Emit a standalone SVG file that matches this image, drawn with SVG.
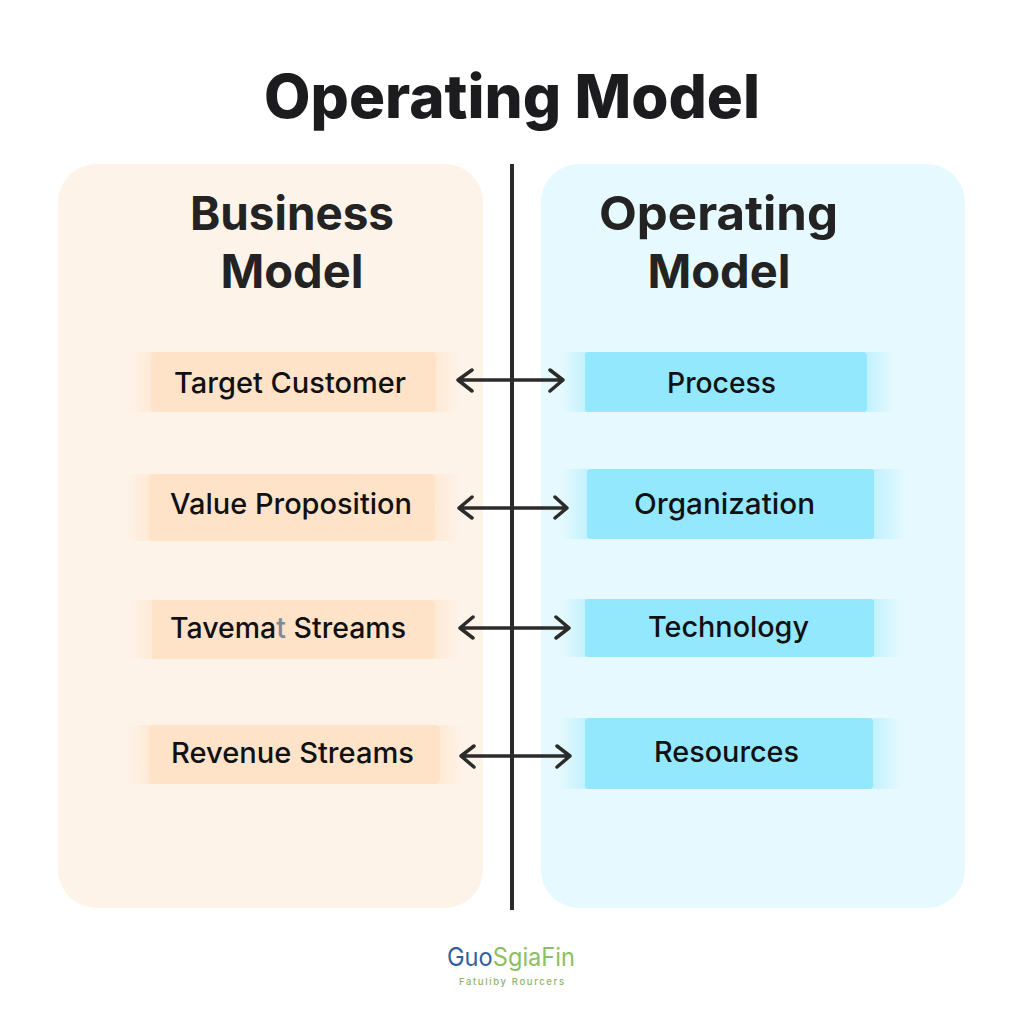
<svg xmlns="http://www.w3.org/2000/svg" width="1024" height="1024" viewBox="0 0 1024 1024">
<style>
text{font-family:Inter,"Liberation Sans",sans-serif;fill:#111114;text-anchor:middle}
.title{font-size:60px;font-weight:800;fill:#1c1c1e}
.head{font-size:47px;font-weight:700;fill:#232323}
.lbl{font-size:29px;font-weight:500}
.biz{fill:#fee3c8}
.ops{fill:#94e8fe}
.wire{fill:none;stroke:#2b2b2b;stroke-width:3.5;stroke-linecap:round;stroke-linejoin:round}
</style>
<defs>
<linearGradient id="fr1" x1="0" x2="1" y1="0" y2="0"><stop offset="0" stop-color="#fee3c8" stop-opacity="0"/><stop offset="1" stop-color="#fee3c8" stop-opacity=".6"/></linearGradient>
<linearGradient id="fr2" x1="1" x2="0" y1="0" y2="0"><stop offset="0" stop-color="#fee3c8" stop-opacity="0"/><stop offset="1" stop-color="#fee3c8" stop-opacity=".6"/></linearGradient>
<linearGradient id="fb1" x1="0" x2="1" y1="0" y2="0"><stop offset="0" stop-color="#94e8fe" stop-opacity="0"/><stop offset="1" stop-color="#94e8fe" stop-opacity=".45"/></linearGradient>
<linearGradient id="fb2" x1="1" x2="0" y1="0" y2="0"><stop offset="0" stop-color="#94e8fe" stop-opacity="0"/><stop offset="1" stop-color="#94e8fe" stop-opacity=".45"/></linearGradient>
</defs>
<rect width="1024" height="1024" fill="#fff"/>
<text id="title" class="title" x="512" y="118" textLength="496" lengthAdjust="spacingAndGlyphs">Operating Model</text>
<g id="panel-business">
<rect x="58" y="164" width="425" height="744" rx="38" fill="#fef3e9"/>
<text class="head" x="292" y="230" textLength="204" lengthAdjust="spacingAndGlyphs">Business</text>
<text class="head" x="292" y="288">Model</text>
</g>
<g id="panel-operating">
<rect x="541" y="164" width="424" height="744" rx="38" fill="#e6f9fe"/>
<text class="head" x="718.500" y="230" textLength="239" lengthAdjust="spacingAndGlyphs">Operating</text>
<text class="head" x="719" y="288">Model</text>
</g>
<g id="node-target-customer">
<rect x="128" y="352" width="24" height="60" fill="url(#fr1)"/><rect x="436" y="352" width="24" height="60" fill="url(#fr2)"/>
<rect class="biz" x="151" y="352" width="285" height="60" rx="3"/>
<text class="lbl" x="290" y="393" textLength="232" lengthAdjust="spacingAndGlyphs">Target Customer</text>
</g>
<g id="node-value-proposition">
<rect x="125" y="474" width="25" height="67" fill="url(#fr1)"/><rect x="435" y="474" width="26" height="67" fill="url(#fr2)"/>
<rect class="biz" x="149" y="474" width="286" height="67" rx="3"/>
<text class="lbl" x="291" y="514" textLength="242" lengthAdjust="spacingAndGlyphs">Value Proposition</text>
</g>
<g id="node-tavemat-streams">
<rect x="128" y="600" width="25" height="59" fill="url(#fr1)"/><rect x="435" y="600" width="26" height="59" fill="url(#fr2)"/>
<rect class="biz" x="152" y="600" width="283" height="59" rx="3"/>
<text class="lbl" x="288" y="638" textLength="236" lengthAdjust="spacingAndGlyphs">Tavema<tspan fill="#7f8a96">t</tspan> Streams</text>
</g>
<g id="node-revenue-streams">
<rect x="127" y="725" width="23" height="59" fill="url(#fr1)"/><rect x="440" y="725" width="24" height="59" fill="url(#fr2)"/>
<rect class="biz" x="149" y="725" width="291" height="59" rx="3"/>
<text class="lbl" x="292.500" y="763" textLength="243" lengthAdjust="spacingAndGlyphs">Revenue Streams</text>
</g>
<g id="node-process">
<rect x="561" y="352" width="25" height="60" fill="url(#fb1)"/><rect x="867" y="352" width="27" height="60" fill="url(#fb2)"/>
<rect class="ops" x="585" y="352" width="282" height="60" rx="3"/>
<text class="lbl" x="721.500" y="393" textLength="109" lengthAdjust="spacingAndGlyphs">Process</text>
</g>
<g id="node-organization">
<rect x="561" y="469" width="27" height="70" fill="url(#fb1)"/><rect x="873" y="469" width="34" height="70" fill="url(#fb2)"/>
<rect class="ops" x="587" y="469" width="287" height="70" rx="3"/>
<text class="lbl" x="724.500" y="514" textLength="181" lengthAdjust="spacingAndGlyphs">Organization</text>
</g>
<g id="node-technology">
<rect x="561" y="599" width="25" height="58" fill="url(#fb1)"/><rect x="873" y="599" width="28" height="58" fill="url(#fb2)"/>
<rect class="ops" x="585" y="599" width="289" height="58" rx="3"/>
<text class="lbl" x="728.500" y="637" textLength="161" lengthAdjust="spacingAndGlyphs">Technology</text>
</g>
<g id="node-resources">
<rect x="559" y="718" width="27" height="71" fill="url(#fb1)"/><rect x="873" y="718" width="28" height="71" fill="url(#fb2)"/>
<rect class="ops" x="585" y="718" width="288" height="71" rx="3"/>
<text class="lbl" x="726.500" y="762" textLength="145" lengthAdjust="spacingAndGlyphs">Resources</text>
</g>
<g id="connectors">
<line x1="512" y1="164" x2="512" y2="910" stroke="#2b2b2b" stroke-width="4"/>
<path class="wire" d="M458 380H563M472 370L458 380L472 391M550 370L563 380L550 391"/>
<path class="wire" d="M459 508H567M472 497L459 508L472 518M555 497L567 508L555 518"/>
<path class="wire" d="M460 628H569M473 617L460 628L473 638M556 617L569 628L556 638"/>
<path class="wire" d="M461 756H570M474 746L461 756L474 767M557 746L570 756L557 767"/>
</g>
<g id="logo">
<text x="511" y="966" font-size="25" textLength="128" lengthAdjust="spacingAndGlyphs"><tspan fill="#2f5f9e">Guo</tspan><tspan fill="#8cbf5f">SgiaFin</tspan></text>
<text x="511.500" y="985" font-size="9.500" font-weight="500" textLength="105" style="fill:#8fb56a">Fatuliby Rourcers</text>
</g>
</svg>
